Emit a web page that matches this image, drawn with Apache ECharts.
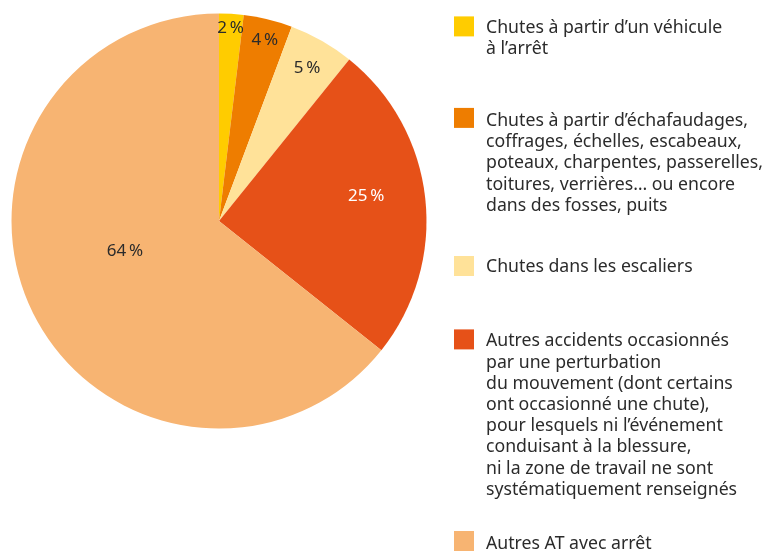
<!DOCTYPE html>
<html>
<head>
<meta charset="utf-8">
<script src="https://cdn.jsdelivr.net/npm/echarts@6/dist/echarts.min.js"></script>
<style>
  html, body { margin: 0; padding: 0; background: #ffffff; }
  #chart { width: 762px; height: 554px; }
</style>
</head>
<body>
<div id="chart"></div>
<script>
// ---- Data ----
const categories = [
  "Chutes à partir d\u2019un véhicule\nà l\u2019arrêt",
  "Chutes à partir d\u2019échafaudages,\ncoffrages, échelles, escabeaux,\npoteaux, charpentes, passerelles,\ntoitures, verrières… ou encore\ndans des fosses, puits",
  "Chutes dans les escaliers",
  "Autres accidents occasionnés\npar une perturbation\ndu mouvement (dont certains\nont occasionné une chute),\npour lesquels ni l\u2019événement\nconduisant à la blessure,\nni la zone de travail ne sont\nsystématiquement renseignés",
  "Autres AT avec arrêt"
];
const values = [1.9, 3.8, 5.1, 24.9, 64.3];
const valueLabels = ["2\u202f%", "4\u202f%", "5\u202f%", "25\u202f%", "64\u202f%"];

// ---- Styles ----
const colors = ["#FFCC00", "#EE7D00", "#FFE299", "#E65118", "#F7B472"];
const labelColors = ["#2b2b2b", "#2b2b2b", "#2b2b2b", "#ffffff", "#2b2b2b"];
const labelRadiusFrac = [0.932, 0.897, 0.848, 0.72, 0.476];
const labelAngleShift = [0, 0.6, 0.3, -3.4, 7.8];
const legendIconTops = [17, 108.5, 256, 330, 533];
const legendTextShift = [1.5, 3, 0.5, 2, 2.5];
const CX = 219, CY = 221, R = 207.5;
const LH = 21.2;
const FS = 17.7;

const chart = echarts.init(document.getElementById('chart'), null, { renderer: 'canvas' });

const legends = categories.map(function (name, i) {
  const lines = name.split('\n');
  const n = lines.length;
  const d = legendTextShift[i];
  const H = (2 * n - 1) * LH + 2 * d;
  const fix = n > 1 ? 9.5 : 0;
  return {
    data: [name],
    orient: 'vertical',
    left: 454,
    top: legendIconTops[i] + 10 - H / 2 + fix,
    padding: 0,
    itemWidth: 20,
    itemHeight: 20,
    icon: 'rect',
    selectedMode: false,
    formatter: function () {
      let s = '';
      for (let k = 0; k < n - 1; k++) s += '{b| }\n';
      s += '{g| }\n';
      return s + lines.map(function (l) { return '{t|' + l + '}'; }).join('\n');
    },
    textStyle: {
      padding: [0, 0, 0, 7],
      rich: {
        b: { fontSize: 1, lineHeight: LH },
        g: { fontSize: 1, lineHeight: 2 * d },
        t: { fontFamily: 'Noto Sans', fontSize: FS, color: '#2b2b2b', lineHeight: LH }
      }
    }
  };
});

const option = {
  backgroundColor: '#ffffff',
  animation: false,
  color: colors,
  legend: legends,
  series: [{
    type: 'pie',
    center: [CX, CY],
    radius: [0, R],
    startAngle: 90,
    clockwise: true,
    silent: true,
    data: categories.map(function (name, i) {
      return {
        name: name,
        value: values[i],
        itemStyle: { color: colors[i] },
        label: { color: labelColors[i] }
      };
    }),
    label: {
      show: true,
      position: 'inside',
      fontFamily: 'Noto Sans',
      fontSize: 17,
      formatter: function (p) { return valueLabels[p.dataIndex]; }
    },
    labelLine: { show: false },
    labelLayout: function (p) {
      const i = p.dataIndex;
      const rect = p.labelRect;
      const lx = rect.x + rect.width / 2;
      const ly = rect.y + rect.height / 2;
      const th = Math.atan2(lx - CX, -(ly - CY)) + labelAngleShift[i] * Math.PI / 180;
      const r = labelRadiusFrac[i] * R;
      return { x: CX + r * Math.sin(th), y: CY - r * Math.cos(th) };
    }
  }]
};

chart.setOption(option);
</script>
</body>
</html>
